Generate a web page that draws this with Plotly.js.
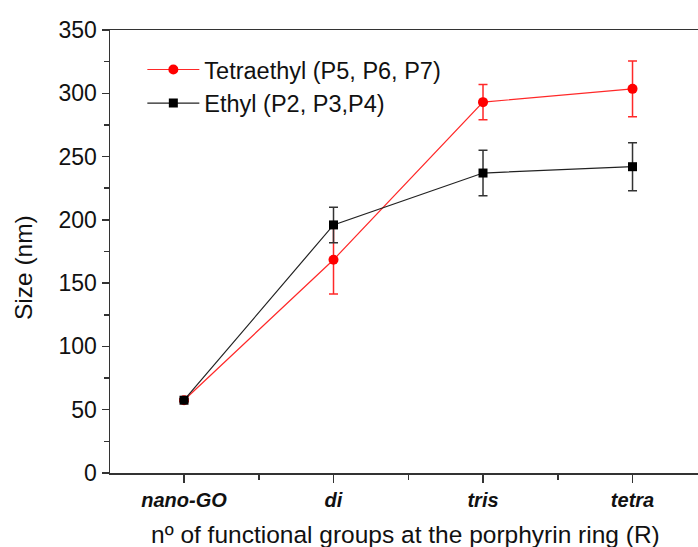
<!DOCTYPE html>
<html>
<head>
<meta charset="utf-8">
<script src="https://cdn.plot.ly/plotly-3.0.1.min.js"></script>
<style>html,body{margin:0;padding:0;background:#fff;}#chart{width:698px;height:547px;}</style>
</head>
<body>
<div id="chart"></div>
<script>
// ---- data ----
const categories = ["nano-GO", "di", "tris", "tetra"];
const tetraethyl = [57.5, 168.5, 293, 303.5];
const tetraethylErr = [1, 27, 14, 22];
const ethyl = [57.5, 196, 237, 242];
const ethylErr = [1, 14, 18, 19];
const yTicks = [0, 50, 100, 150, 200, 250, 300, 350];

// ---- layout helpers (positions, not data) ----
const idx = categories.map((c, i) => i);
const minorTicks = categories.map((c, i) => i + 0.5);

const traces = [
  {
    x: idx, y: tetraethyl, name: "Tetraethyl (P5, P6, P7)", type: "scatter", mode: "lines+markers",
    line: {color: "#ff2828", width: 1.2},
    marker: {symbol: "circle", size: 10, color: "#ff0000"},
    error_y: {type: "data", array: tetraethylErr, visible: true, color: "#ff2828", thickness: 1.5, width: 4.5}
  },
  {
    x: idx, y: ethyl, name: "Ethyl (P2, P3,P4)", type: "scatter", mode: "lines+markers",
    line: {color: "#222222", width: 1.2},
    marker: {symbol: "square", size: 9, color: "#000000"},
    error_y: {type: "data", array: ethylErr, visible: true, color: "#333333", thickness: 1.5, width: 4.5}
  }
];

const layout = {
  width: 698, height: 547,
  margin: {l: 110, r: 0, t: 30, b: 73.5, pad: 0},
  paper_bgcolor: "#fff", plot_bgcolor: "#fff",
  font: {family: "Liberation Sans, Arial, sans-serif", color: "#111", size: 20},
  showlegend: true,
  legend: {x: 0.055, y: 0.96, xanchor: "left", yanchor: "top", bgcolor: "rgba(0,0,0,0)",
           font: {size: 23.5, color: "#111"}, itemwidth: 52, tracegroupgap: 0},
  xaxis: {
    range: [-0.495, 3.438], showgrid: false, zeroline: false,
    showline: true, linecolor: "#333", linewidth: 1.5, mirror: true,
    tickmode: "array", tickvals: idx, ticktext: categories.map(c => "<b><i>" + c + "</i></b>"),
    ticks: "outside", ticklen: 8, tickwidth: 1.5, tickcolor: "#333",
    tickfont: {size: 20, color: "#111"},
    minor: {tickmode: "array", tickvals: minorTicks, ticks: "outside", ticklen: 5, tickwidth: 1.5, tickcolor: "#333"}
  },
  yaxis: {
    range: [0, 350], showgrid: false, zeroline: false,
    showline: true, linecolor: "#333", linewidth: 1.5,
    tickmode: "array", tickvals: yTicks, ticktext: yTicks.map(String),
    ticks: "outside", ticklen: 7, tickwidth: 1.5, tickcolor: "#333",
    tickfont: {size: 23, color: "#111"},
    minor: {dtick: 25, tick0: 0, ticks: "outside", ticklen: 5, tickwidth: 1.5, tickcolor: "#333"}
  },
  annotations: [
    {text: "nº of functional groups at the porphyrin ring (R)", xref: "paper", yref: "paper",
     x: 0.503, y: -0.138, xanchor: "center", yanchor: "middle", showarrow: false,
     font: {size: 24.5, color: "#111"}},
    {text: "Size (nm)", xref: "paper", yref: "paper", textangle: -90,
     x: -0.146, y: 0.463, xanchor: "center", yanchor: "middle", showarrow: false,
     font: {size: 24.5, color: "#111"}}
  ]
};

Plotly.newPlot("chart", traces, layout, {displayModeBar: false, staticPlot: true});
</script>
</body>
</html>
